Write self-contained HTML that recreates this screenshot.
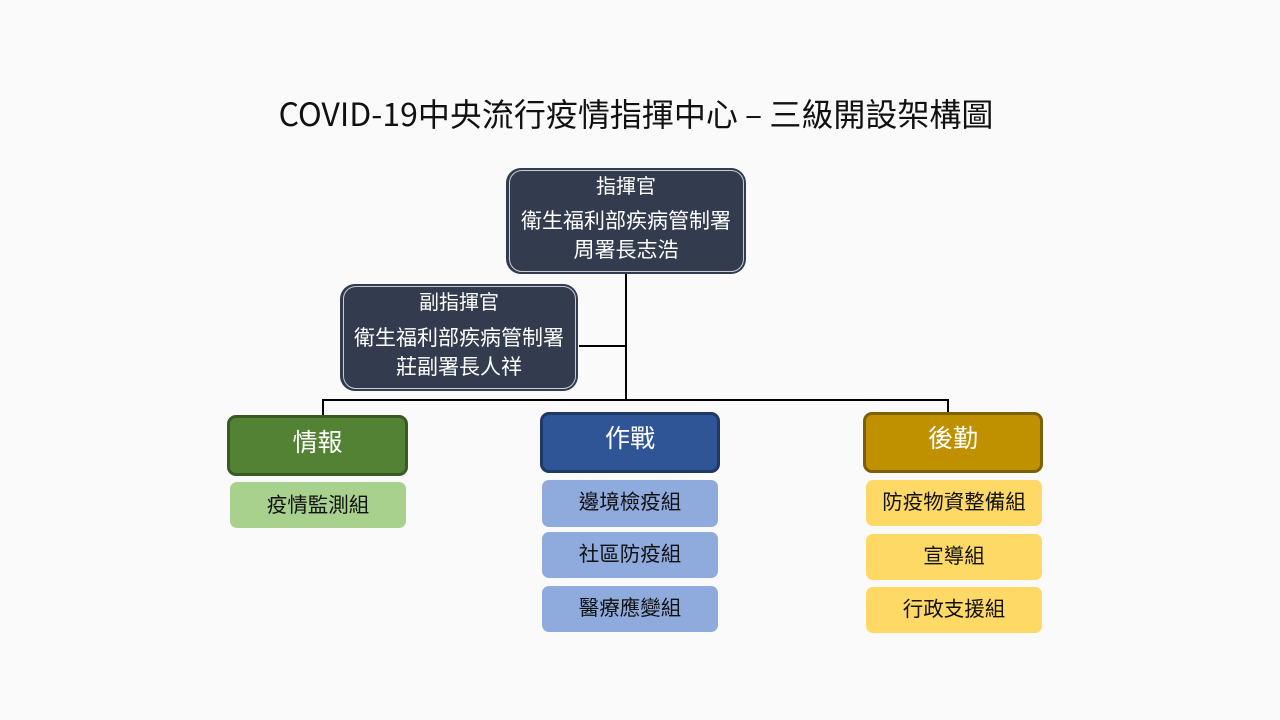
<!DOCTYPE html>
<html><head><meta charset="utf-8">
<style>
html,body{margin:0;padding:0;}
body{width:1280px;height:720px;background:#fafafa;position:relative;overflow:hidden;font-family:"Liberation Sans","Noto Sans CJK TC",sans-serif;}
.abs{position:absolute;}
.title{left:0;width:1272px;top:91px;text-align:center;font-size:32px;line-height:44px;color:#111;font-family:"Noto Sans CJK TC","Liberation Sans",sans-serif;}
.dark{background:#323c4e;border-radius:15px;box-sizing:border-box;}
.dark::after{content:"";position:absolute;left:3px;top:2px;right:2px;bottom:2px;border:1px solid #c9ccd2;border-radius:13px;}
.t{position:absolute;left:0;width:100%;text-align:center;color:#fff;font-family:"Noto Sans CJK TC",sans-serif;white-space:nowrap;}
.hd{box-sizing:border-box;border-radius:9px;border:3px solid;}
.sub{border-radius:7px;}
.st{position:absolute;left:0;width:100%;text-align:center;color:#111;font-size:20.5px;font-family:"Noto Sans CJK TC",sans-serif;white-space:nowrap;}
.ln{position:absolute;background:#000;}
</style></head><body>
<div class="abs title">COVID-19中央流行疫情指揮中心 – 三級開設架構圖</div>

<!-- connectors -->
<div class="ln" style="left:625px;top:273px;width:2px;height:128px;"></div>
<div class="ln" style="left:579px;top:345px;width:47px;height:2px;"></div>
<div class="ln" style="left:322px;top:399px;width:627px;height:2px;"></div>
<div class="ln" style="left:322px;top:399px;width:2px;height:18px;"></div>
<div class="ln" style="left:947px;top:399px;width:2px;height:14px;"></div>

<!-- commander -->
<div class="abs dark" style="left:506px;top:168px;width:240px;height:106px;">
  <div class="t" style="top:3px;font-size:20px;line-height:28px;">指揮官</div>
  <div class="t" style="top:37px;font-size:21px;line-height:30px;">衛生福利部疾病管制署</div>
  <div class="t" style="top:66px;font-size:21px;line-height:30px;">周署長志浩</div>
</div>

<!-- deputy -->
<div class="abs dark" style="left:340px;top:284px;width:238px;height:107px;">
  <div class="t" style="top:3px;font-size:20px;line-height:28px;">副指揮官</div>
  <div class="t" style="top:38px;font-size:21px;line-height:30px;">衛生福利部疾病管制署</div>
  <div class="t" style="top:67px;font-size:21px;line-height:30px;">莊副署長人祥</div>
</div>

<!-- headers -->
<div class="abs hd" style="left:227px;top:415px;width:181px;height:61px;background:#548235;border-color:#3a5a24;">
  <div class="t" style="top:5px;font-size:25px;line-height:36px;">情報</div>
</div>
<div class="abs hd" style="left:540px;top:412px;width:180px;height:61px;background:#2f5597;border-color:#1f3864;">
  <div class="t" style="top:4px;font-size:25px;line-height:36px;">作戰</div>
</div>
<div class="abs hd" style="left:863px;top:412px;width:180px;height:61px;background:#bf9000;border-color:#7f6000;">
  <div class="t" style="top:4px;font-size:25px;line-height:36px;">後勤</div>
</div>

<!-- subs green -->
<div class="abs sub" style="left:230px;top:482px;width:176px;height:46px;background:#a9d18e;">
  <div class="st" style="top:5px;line-height:32px;">疫情監測組</div>
</div>

<!-- subs blue -->
<div class="abs sub" style="left:542px;top:480px;width:176px;height:47px;background:#8faadc;">
  <div class="st" style="top:4px;line-height:32px;">邊境檢疫組</div>
</div>
<div class="abs sub" style="left:542px;top:532px;width:176px;height:46px;background:#8faadc;">
  <div class="st" style="top:4px;line-height:32px;">社區防疫組</div>
</div>
<div class="abs sub" style="left:542px;top:586px;width:176px;height:46px;background:#8faadc;">
  <div class="st" style="top:4px;line-height:32px;">醫療應變組</div>
</div>

<!-- subs gold -->
<div class="abs sub" style="left:866px;top:480px;width:176px;height:46px;background:#ffd966;">
  <div class="st" style="top:4px;line-height:32px;">防疫物資整備組</div>
</div>
<div class="abs sub" style="left:866px;top:534px;width:176px;height:46px;background:#ffd966;">
  <div class="st" style="top:4px;line-height:32px;">宣導組</div>
</div>
<div class="abs sub" style="left:866px;top:587px;width:176px;height:46px;background:#ffd966;">
  <div class="st" style="top:4px;line-height:32px;">行政支援組</div>
</div>
</body></html>
